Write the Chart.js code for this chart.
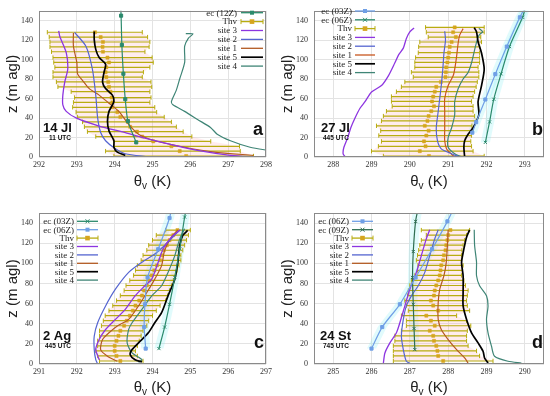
<!DOCTYPE html>
<html><head><meta charset="utf-8">
<script src="https://cdn.jsdelivr.net/npm/chart.js@4.4.1/dist/chart.umd.min.js"></script>
<style>
html,body{margin:0;padding:0;background:#fff;}
#wrap{position:relative;width:550px;height:396px;overflow:hidden;}
.pn{position:absolute;width:275px;height:198px;}
</style></head>
<body><div id="wrap">
<div class="pn" style="left:0;top:0"><canvas id="ca" width="275" height="198"></canvas></div>
<div class="pn" style="left:275px;top:0"><canvas id="cb" width="275" height="198"></canvas></div>
<div class="pn" style="left:0;top:198px"><canvas id="cc" width="275" height="198"></canvas></div>
<div class="pn" style="left:275px;top:198px"><canvas id="cd" width="275" height="198"></canvas></div>
</div>
<script>
// ---------- shared ticks ----------
const yTicks = [0,20,40,60,80,100,120,140];
const xTicksA = [292,293,294,295,296,297,298];
const xTicksB = [288,289,290,291,292,293];
const xTicksC = [291,292,293,294,295,296,297];
const xTicksD = [285,286,287,288,289,290];

// ---------- panel a (14 Jl, 11 UTC) ----------
const thvZ_a  = [128,123,118,113,108,102,97,92,87,82,77,72,67,61,56,51,46,41,36,31,26,21,16,11,6,1];
const thv_a   = [293.48,293.63,293.69,293.68,293.69,293.81,293.85,293.78,293.76,293.78,293.83,293.85,293.89,293.92,293.94,293.94,294.07,294.15,294.35,294.41,294.59,294.73,295.02,295.50,295.72,295.89];
const thvLo_a = [292.22,292.27,292.29,292.29,292.33,292.37,292.39,292.42,292.37,292.37,292.46,292.50,292.85,292.94,292.91,292.89,292.98,293.02,293.15,293.20,293.28,293.50,293.98,293.98,293.76,293.98];
const thvHi_a = [294.73,294.87,294.93,294.91,294.80,294.99,295.02,294.93,294.76,294.73,294.96,294.98,294.93,294.96,294.93,295.06,295.11,295.31,295.50,295.63,295.81,296.04,296.54,297.30,297.32,297.67];
const ec12Z_a = [[294.15,165],[294.17,145],[294.19,115],[294.23,85.4],[294.28,59.3],[294.35,36.8],[294.57,15]];
const site3_a = [[292.52,129.4],[292.55,123.7],[292.72,107],[292.76,90.3],[292.68,76.9],[292.63,63.5],[292.63,53.5],[292.72,46.8],[292.98,40.1],[293.59,31.8],[294.28,25.1],[294.80,19.4],[295.50,12.7],[296.19,6.7],[297.06,1.7],[297.76,0]];
const site2_a = [[292.94,127.8],[293.24,113.7],[293.41,90.3],[293.50,63.5],[293.55,40.1],[293.63,25.1],[293.76,16.7],[294.02,8.4],[294.28,3.3],[294.89,0]];
const site1_a = [[292.91,127.1],[292.91,113.7],[293.00,97],[293.02,85.3],[293.15,78.6],[293.33,70.2],[293.59,63.5],[293.85,55.2],[294.11,46.8],[294.37,33.4],[294.63,23.4],[295.06,16.7],[295.85,10],[296.63,5],[297.67,1.7]];
const site5_a = [[293.46,128.8],[293.46,120.4],[293.50,110.4],[293.59,102],[293.76,95.3],[293.72,87],[293.68,76.9],[293.76,70.2],[293.94,63.5],[293.98,56.9],[293.85,46.8],[293.81,36.8],[293.85,26.8],[293.98,16.7],[293.98,10],[294.07,5],[294.28,1.7]];
const site4_a = [[295.88,126.5],[296.07,126.3],[295.95,122],[295.85,113.7],[295.85,97],[295.72,80.3],[295.63,68.6],[295.50,56.9],[295.54,53.5],[295.85,46.8],[296.19,38.5],[296.54,30.1],[296.71,23.4],[297.06,16.7],[297.58,10],[298.1,6.5]];

// ---------- panel b (27 Jl, 445 UTC) ----------
const thvZ_b  = [133,128,123,118,113,107,102,97,92,87,82,77,72,67,62,57,52,47,42,37,32,27,22,16,11,6,1];
const thv_b   = [291.17,291.13,291.20,291.09,291.04,291.02,291.00,290.98,290.95,290.94,290.93,290.81,290.69,290.65,290.61,290.58,290.63,290.56,290.49,290.46,290.39,290.49,290.43,290.37,290.41,290.26,290.50];
const thvLo_b = [290.41,290.43,290.48,290.26,290.23,290.22,290.15,290.13,290.13,290.04,290.09,289.87,289.78,289.65,289.52,289.52,289.54,289.39,289.31,289.26,289.13,289.24,289.19,289.26,289.18,289.00,289.31];
const thvHi_b = [291.94,291.94,291.85,291.87,291.82,291.82,291.82,291.82,291.78,291.80,291.80,291.76,291.73,291.69,291.65,291.61,291.65,291.65,291.69,291.73,291.62,291.65,291.61,291.59,291.61,291.65,291.94];
const ec03Z_b = [[293.10,160],[292.87,143.3],[292.53,113.3],[292.23,85],[291.97,59],[291.73,35.7],[291.63,25]];
const ec06Z_b = [[293.06,160],[292.94,143.3],[292.60,113.3],[292.38,85.3],[292.19,59.3],[292.08,36],[291.97,15]];
const site3_b = [[290.11,132.3],[290.00,128.3],[289.91,121.7],[289.83,111.7],[289.71,105],[289.61,96.7],[289.44,83.3],[289.26,73.3],[289.00,66.7],[288.83,56.7],[288.70,50],[288.57,40],[288.46,30],[288.38,20],[288.28,10],[288.26,3.3],[288.32,0]];
const site2_b = [[290.91,129],[290.93,120],[290.89,106.7],[290.86,90],[290.82,73.3],[290.78,60],[290.74,46.7],[290.69,30],[290.72,16.7],[290.82,8.3],[291.09,3.3],[291.30,0]];
const site1_b = [[291.39,131.7],[291.30,125],[291.26,116.7],[291.22,103.3],[291.17,90],[291.13,83.3],[291.00,73.3],[290.91,60],[290.91,46.7],[290.91,30],[290.91,16.7],[290.96,8.3],[291.09,2.7],[291.17,0]];
const site5_b = [[291.68,132.7],[291.74,128.3],[291.78,118.3],[291.87,106.7],[291.94,90],[291.87,73.3],[291.78,56.7],[291.80,43.3],[291.65,30],[291.52,23.3],[291.43,16.7],[291.41,10],[291.43,0]];
const site4_b = [[291.80,132],[291.90,128.5],[291.83,126],[291.78,123.3],[291.69,110],[291.61,96.7],[291.52,86.7],[291.39,80],[291.26,70],[291.17,56.7],[291.17,43.3],[291.09,30],[291.00,20],[291.00,10],[291.17,3.3],[291.35,0]];

// ---------- panel c (2 Ag, 445 UTC) ----------
const thvZ_c  = [133,128,123,118,113,108,103,98,93,88,83,78,73,68,63,58,53,48,43,38,33,28,23,18,13,8,3];
const thv_c   = [294.66,294.55,294.45,294.38,294.30,294.25,294.20,294.12,294.05,293.98,293.92,293.85,293.78,293.72,293.65,293.55,293.48,293.40,293.32,293.25,293.15,293.10,293.05,293.00,293.00,293.05,293.15];
const thvLo_c = [294.35,294.10,294.00,293.90,293.85,293.75,293.70,293.60,293.55,293.50,293.40,293.30,293.25,293.15,293.05,292.95,292.85,292.75,292.70,292.65,292.60,292.60,292.55,292.55,292.50,292.55,292.60];
const thvHi_c = [295.00,294.95,294.90,294.85,294.80,294.75,294.75,294.70,294.65,294.60,294.55,294.50,294.45,294.40,294.35,294.20,294.10,294.00,293.90,293.85,293.75,293.70,293.65,293.60,293.55,293.60,293.75];
const ec03Z_c = [[294.95,165],[294.85,146],[294.72,114.3],[294.59,86],[294.45,59.3],[294.32,36.7],[294.17,15.3]];
const ec06Z_c = [[294.55,165],[294.45,145],[294.15,114],[293.87,86],[293.80,59.3],[293.78,36.7],[293.82,15.3]];
const site3_c = [[294.74,133.3],[294.50,126],[294.28,114.3],[294.15,101],[293.98,84.3],[293.80,77.7],[293.54,67.7],[293.28,54.3],[293.02,44.3],[292.76,34.3],[292.59,24.3],[292.50,14.3],[292.59,4.3]];
const site2_c = [[294.72,133.3],[294.32,117.7],[294.06,109.3],[293.72,101],[293.37,91],[293.02,74.3],[292.76,57.7],[292.55,41],[292.46,27.7],[292.46,14.3],[292.50,4.3],[292.55,0]];
const site1_c = [[294.67,133.3],[294.50,126],[294.32,112.7],[294.24,97.7],[294.06,84.3],[293.85,71],[293.63,57.7],[293.37,44.3],[293.07,37.7],[292.85,31],[292.68,24.3],[292.63,14.3],[292.81,7.7],[293.07,2.7]];
const site5_c = [[294.93,132.7],[294.80,127.7],[294.72,117.7],[294.67,101],[294.59,84.3],[294.41,67.7],[294.24,51],[294.06,41],[293.89,31],[293.63,21],[293.46,14.3],[293.41,9.3],[293.54,4.3],[293.72,2]];
const site4_c = [[294.85,134.3],[294.72,124.3],[294.59,107.7],[294.41,91],[294.24,77.7],[293.98,67.7],[293.72,54.3],[293.46,41],[293.37,34.3],[293.33,21],[293.46,11],[293.72,4.3],[293.63,1.7]];

// ---------- panel d (24 St, 745 UTC) ----------
const thvZ_d  = [133,128,123,118,113,108,103,98,93,88,83,78,73,68,63,58,53,48,43,38,33,28,23,18,13,8,3];
const thv_d   = [288.06,288.00,287.98,287.95,287.93,287.89,287.87,287.82,287.80,287.78,287.74,287.69,287.65,287.63,287.55,287.61,287.74,287.43,287.55,287.65,287.52,287.61,287.63,287.69,287.72,287.74,287.87];
const thvLo_d = [287.30,287.43,287.30,287.26,287.23,287.20,287.17,287.21,287.20,287.13,287.04,287.00,286.96,286.94,286.87,286.91,286.96,286.78,286.91,286.91,286.78,286.61,286.61,286.57,286.57,286.57,286.57];
const thvHi_d = [288.56,288.48,288.43,288.39,288.36,288.35,288.35,288.39,288.37,288.35,288.41,288.45,288.52,288.50,288.48,288.50,288.56,288.22,288.48,288.59,288.50,288.48,288.48,288.52,288.74,288.82,289.17];
const ec06Z_d = [[288.15,155],[287.98,141.7],[287.58,114],[287.15,86],[286.74,59.3],[286.28,36.7],[286.00,15.3]];
const ec09Z_d = [[287.22,155],[287.15,141.7],[287.09,111.7],[287.07,86],[287.09,59.3],[287.11,35.3],[287.13,14.3]];
const site3_d = [[287.52,133.3],[287.43,124.3],[287.30,107.7],[287.17,91],[287.00,74.3],[286.87,57.7],[286.74,41],[286.65,31],[286.48,21],[286.35,11],[286.31,1]];
const site2_d = [[287.74,133.3],[287.65,124.3],[287.52,107.7],[287.39,91],[287.22,77.7],[287.04,67.7],[286.91,57.7],[286.83,44.3],[286.78,27.7],[286.83,14.3],[286.91,2.7],[287.04,0]];
const site1_d = [[288.00,133.3],[287.98,117.7],[287.95,101],[287.89,87.7],[287.78,74.3],[287.74,61],[287.74,44.3],[287.82,34.3],[288.00,24.3],[288.22,14.3],[288.43,6],[288.52,1]];
const site5_d = [[288.56,133.3],[288.48,126],[288.41,114.3],[288.35,101],[288.39,87.7],[288.39,71],[288.39,57.7],[288.48,44.3],[288.61,31],[288.78,21],[288.91,12.7],[288.95,6],[289.04,1]];
const site4_d = [[288.68,133.3],[288.69,117.7],[288.74,101],[288.74,87.7],[288.82,77.7],[289.00,67.7],[289.04,57.7],[289.00,44.3],[289.04,31],[289.13,17.7],[289.21,7.7],[289.56,2.7],[289.91,1]];

// ---------- styles ----------
const C = {
  ecG:'#2b8a6c', ecB:'#6f9fe6', bar:'#b8ac10', mark:'#d6a51e',
  s3:'#8d35e0', s2:'#5565d0', s1:'#b35a22', s5:'#000000', s4:'#3f8576',
  band:'rgba(255,160,170,0.2)', cyan:'rgba(120,235,240,0.22)'
};
const SERIF = '"Liberation Serif", "DejaVu Serif", serif';
const SANS = '"Liberation Sans", Arial, sans-serif';

function pts(a){ return a.map(p=>({x:p[0], y:p[1]})); }
function lineDS(label, a, color, w, order, mk){
  return {label, data:pts(a), showLine:true, borderColor:color, backgroundColor:color,
    borderWidth:w, tension:0.25, pointRadius: mk?2.2:0, pointStyle: mk||'circle',
    pointBorderWidth:1, pointBackgroundColor:color, pointBorderColor:color, fill:false, order};
}
// faint shading strip around an ec profile
function ecShade(a, half){
  const s = a.map(p=>({x:p[0]-half, y:p[1]}));
  for(let i=a.length-1;i>=0;i--) s.push({x:a[i][0]+half, y:a[i][1]});
  return {label:'shade', data:s, showLine:true, borderWidth:0, borderColor:'rgba(0,0,0,0)', pointRadius:0, fill:'shape', backgroundColor:C.cyan, order:21};
}
function thvSets(z, m, lo, hi){
  const err = [];
  z.forEach((zz,i)=>{ err.push({x:lo[i],y:zz},{x:hi[i],y:zz},{x:null,y:null}); });
  const shape = [];
  z.forEach((zz,i)=>shape.push({x:lo[i],y:zz}));
  for(let i=z.length-1;i>=0;i--) shape.push({x:hi[i],y:z[i]});
  return [
    {label:'band', data:shape, showLine:true, borderWidth:0, borderColor:'rgba(0,0,0,0)', pointRadius:0, fill:'shape', backgroundColor:C.band, order:20},
    {label:'Thv err', data:err, showLine:true, spanGaps:false, borderColor:C.bar, borderWidth:1.2, pointStyle:'line', rotation:90, pointRadius:2.2, pointBorderColor:C.bar, pointBorderWidth:1, fill:false, order:8},
    {label:'Thv', data:z.map((zz,i)=>({x:m[i],y:zz})), showLine:false, pointStyle:'rect', pointRadius:2.2, pointBackgroundColor:C.mark, pointBorderColor:C.mark, pointBorderWidth:0.5, order:7}
  ];
}

const panelPlugin = {
  id:'panelDeco',
  afterDraw(chart, args, o){
    const ctx = chart.ctx, a = chart.chartArea;
    ctx.save();
    ctx.strokeStyle = '#8a8a8a'; ctx.lineWidth = 1;
    ctx.strokeRect(Math.round(a.left)+0.5, Math.round(a.top)+0.5, Math.round(a.width)-1, Math.round(a.height)-1);
    // axis titles
    ctx.fillStyle = '#222';
    ctx.textBaseline = 'alphabetic';
    const cx = (a.left + a.right)/2;
    const t1 = 'θ', t2 = 'v', t3 = ' (K)';
    ctx.font = '15px ' + SANS; const w1 = ctx.measureText(t1).width, w3 = ctx.measureText(t3).width;
    ctx.font = '10px ' + SANS; const w2 = ctx.measureText(t2).width;
    let x0 = cx - (w1+w2+w3)/2;
    ctx.textAlign = 'left';
    ctx.font = '15px ' + SANS; ctx.fillText(t1, x0, o.xtY);
    ctx.font = '10px ' + SANS; ctx.fillText(t2, x0+w1, o.xtY+3);
    ctx.font = '15px ' + SANS; ctx.fillText(t3, x0+w1+w2, o.xtY);
    ctx.save();
    ctx.translate(o.ytX, (a.top+a.bottom)/2);
    ctx.rotate(-Math.PI/2);
    ctx.textAlign = 'center'; ctx.font = '15px ' + SANS;
    ctx.fillText('z (m agl)', 0, 0);
    ctx.restore();
    // legend
    const L = o.legend;
    L.items.forEach((it,i)=>{
      const y = L.y0 + i*L.dy;
      ctx.font = '9px ' + SERIF; ctx.fillStyle = '#222';
      ctx.textAlign = 'right'; ctx.textBaseline = 'middle';
      ctx.fillText(it.label, L.tx, y+0.5);
      ctx.strokeStyle = it.color; ctx.lineWidth = it.w || 1.3;
      ctx.beginPath(); ctx.moveTo(L.x1, y); ctx.lineTo(L.x2, y); ctx.stroke();
      const mx = (L.x1+L.x2)/2;
      if(it.err){
        ctx.lineWidth = 1;
        ctx.beginPath(); ctx.moveTo(L.x1, y-2.5); ctx.lineTo(L.x1, y+2.5); ctx.moveTo(L.x2, y-2.5); ctx.lineTo(L.x2, y+2.5); ctx.stroke();
        ctx.fillStyle = C.mark; ctx.fillRect(mx-2.3, y-2.3, 4.6, 4.6);
      } else if(it.mk === 'rect'){
        ctx.fillStyle = it.color; ctx.fillRect(mx-2, y-2, 4, 4);
      } else if(it.mk === 'crossRot'){
        ctx.lineWidth = 1; ctx.beginPath();
        ctx.moveTo(mx-2,y-2); ctx.lineTo(mx+2,y+2); ctx.moveTo(mx+2,y-2); ctx.lineTo(mx-2,y+2); ctx.stroke();
      }
    });
    // panel labels
    ctx.fillStyle = '#111'; ctx.textAlign = 'left'; ctx.textBaseline = 'alphabetic';
    o.labels.forEach(l=>{ ctx.font = l.f; ctx.fillText(l.t, l.x, l.y); });
    ctx.restore();
  }
};

function makeChart(id, cfg){
  const xt = cfg.xt;
  new Chart(document.getElementById(id), {
    type:'scatter',
    data:{datasets:cfg.datasets},
    options:{
      responsive:false, animation:false, devicePixelRatio:1,
      layout:{padding:{left:0, right:cfg.padR, top:cfg.padT, bottom:0}},
      plugins:{legend:{display:false}, tooltip:{enabled:false}, panelDeco:cfg.deco},
      scales:{
        x:{type:'linear', min:cfg.xmin, max:cfg.xmax,
           afterBuildTicks:s=>{ s.ticks = xt.map(v=>({value:v})); },
           afterFit:s=>{ s.height = cfg.xh; },
           ticks:{font:{family:SERIF, size:8}, color:'#333', padding:3, maxRotation:0, autoSkip:false, callback:v=>String(v)},
           grid:{color:'#e3e3e3', lineWidth:1, drawTicks:false}, border:{display:false}},
        y:{type:'linear', min:0, max:150,
           afterBuildTicks:s=>{ s.ticks = yTicks.map(v=>({value:v})); },
           afterFit:s=>{ s.width = 39; },
           ticks:{font:{family:SERIF, size:8}, color:'#333', padding:6, autoSkip:false, callback:v=>String(v)},
           grid:{color:'#e3e3e3', lineWidth:1, drawTicks:false}, border:{display:false}}
      }
    },
    plugins:[panelPlugin]
  });
}

const LB = 'bold 13px ' + SANS, LS = 'bold 6.5px ' + SANS, LL = 'bold 18px ' + SANS;

// panel a
makeChart('ca', {
  xmin:292, xmax:298, xt:xTicksA, padR:5, padT:7, xh:41,
  datasets:[
    lineDS('ec (12Z)', ec12Z_a, C.ecG, 1.2, 1, 'rect'),
    lineDS('site 3', site3_a, C.s3, 1.3, 3),
    lineDS('site 2', site2_a, C.s2, 1.2, 3),
    lineDS('site 1', site1_a, C.s1, 1.2, 3),
    lineDS('site 5', site5_a, C.s5, 1.7, 2),
    lineDS('site 4', site4_a, C.s4, 1.2, 3),
    ...thvSets(thvZ_a, thv_a, thvLo_a, thvHi_a)
  ],
  deco:{xtY:186, ytX:17,
    legend:{tx:237, x1:241, x2:263, y0:12.7, dy:8.9, items:[
      {label:'ec (12Z)', color:C.ecG, mk:'rect'},
      {label:'Thv', color:C.bar, err:true},
      {label:'site 3', color:C.s3},
      {label:'site 2', color:C.s2},
      {label:'site 1', color:C.s1},
      {label:'site 5', color:C.s5, w:1.7},
      {label:'site 4', color:C.s4}]},
    labels:[{t:'14 Jl', x:43, y:132, f:LB},{t:'11 UTC', x:49, y:139.5, f:LS},{t:'a', x:253, y:135, f:LL}]}
});

// panel b
makeChart('cb', {
  xmin:287.5, xmax:293.5, xt:xTicksB, padR:6, padT:7, xh:41,
  datasets:[
    lineDS('ec (03Z)', ec03Z_b, C.ecB, 1.2, 1, 'rect'),
    lineDS('ec (06Z)', ec06Z_b, C.ecG, 1.2, 1, 'crossRot'),
    lineDS('site 3', site3_b, C.s3, 1.3, 3),
    lineDS('site 2', site2_b, C.s2, 1.2, 3),
    lineDS('site 1', site1_b, '#c8561e', 1.2, 3),
    lineDS('site 5', site5_b, C.s5, 1.7, 2),
    lineDS('site 4', site4_b, C.s4, 1.2, 3),
    ...thvSets(thvZ_b, thv_b, thvLo_b, thvHi_b),
    ecShade(ec03Z_b, 0.12), ecShade(ec06Z_b, 0.12)
  ],
  deco:{xtY:186, ytX:17,
    legend:{tx:77, x1:80, x2:100, y0:11, dy:8.8, items:[
      {label:'ec (03Z)', color:C.ecB, mk:'rect'},
      {label:'ec (06Z)', color:C.ecG, mk:'crossRot'},
      {label:'Thv', color:C.bar, err:true},
      {label:'site 3', color:C.s3},
      {label:'site 2', color:C.s2},
      {label:'site 1', color:'#c8561e'},
      {label:'site 5', color:C.s5, w:1.7},
      {label:'site 4', color:C.s4}]},
    labels:[{t:'27 Jl', x:46, y:132, f:LB},{t:'445 UTC', x:48, y:139.5, f:LS},{t:'b', x:257, y:135, f:LL}]}
});

// panel c
makeChart('cc', {
  xmin:291, xmax:297, xt:xTicksC, padR:6, padT:15, xh:32,
  datasets:[
    lineDS('ec (03Z)', ec03Z_c, C.ecG, 1.2, 1, 'crossRot'),
    lineDS('ec (06Z)', ec06Z_c, C.ecB, 1.2, 1, 'rect'),
    lineDS('site 3', site3_c, C.s3, 1.3, 3),
    lineDS('site 2', site2_c, C.s2, 1.2, 3),
    lineDS('site 1', site1_c, C.s1, 1.2, 3),
    lineDS('site 5', site5_c, C.s5, 1.7, 2),
    lineDS('site 4', site4_c, C.s4, 1.2, 3),
    ...thvSets(thvZ_c, thv_c, thvLo_c, thvHi_c),
    ecShade(ec03Z_c, 0.12), ecShade(ec06Z_c, 0.12)
  ],
  deco:{xtY:194, ytX:17,
    legend:{tx:74, x1:77, x2:98, y0:23.3, dy:8.4, items:[
      {label:'ec (03Z)', color:C.ecG, mk:'crossRot'},
      {label:'ec (06Z)', color:C.ecB, mk:'rect'},
      {label:'Thv', color:C.bar, err:true},
      {label:'site 3', color:C.s3},
      {label:'site 2', color:C.s2},
      {label:'site 1', color:C.s1},
      {label:'site 5', color:C.s5, w:1.7},
      {label:'site 4', color:C.s4}]},
    labels:[{t:'2 Ag', x:43, y:141.7, f:LB},{t:'445 UTC', x:45, y:150, f:LS},{t:'c', x:254, y:150, f:LL}]}
});

// panel d
makeChart('cd', {
  xmin:284.5, xmax:290.5, xt:xTicksD, padR:6, padT:15, xh:32,
  datasets:[
    lineDS('ec (06Z)', ec06Z_d, C.ecB, 1.2, 1, 'rect'),
    lineDS('ec (09Z)', ec09Z_d, '#2f6e52', 1.2, 1, 'crossRot'),
    lineDS('site 3', site3_d, C.s3, 1.3, 3),
    lineDS('site 2', site2_d, C.s2, 1.2, 3),
    lineDS('site 1', site1_d, C.s1, 1.2, 3),
    lineDS('site 5', site5_d, C.s5, 1.7, 2),
    lineDS('site 4', site4_d, C.s4, 1.2, 3),
    ...thvSets(thvZ_d, thv_d, thvLo_d, thvHi_d),
    ecShade(ec06Z_d, 0.12), ecShade(ec09Z_d, 0.12)
  ],
  deco:{xtY:194, ytX:17,
    legend:{tx:74, x1:77, x2:98, y0:23.3, dy:8.4, items:[
      {label:'ec (06Z)', color:C.ecB, mk:'rect'},
      {label:'ec (09Z)', color:'#2f6e52', mk:'crossRot'},
      {label:'Thv', color:C.bar, err:true},
      {label:'site 3', color:C.s3},
      {label:'site 2', color:C.s2},
      {label:'site 1', color:C.s1},
      {label:'site 5', color:C.s5, w:1.7},
      {label:'site 4', color:C.s4}]},
    labels:[{t:'24 St', x:45, y:141.7, f:LB},{t:'745 UTC', x:48, y:150, f:LS},{t:'d', x:257, y:150, f:LL}]}
});
</script>
</body></html>
